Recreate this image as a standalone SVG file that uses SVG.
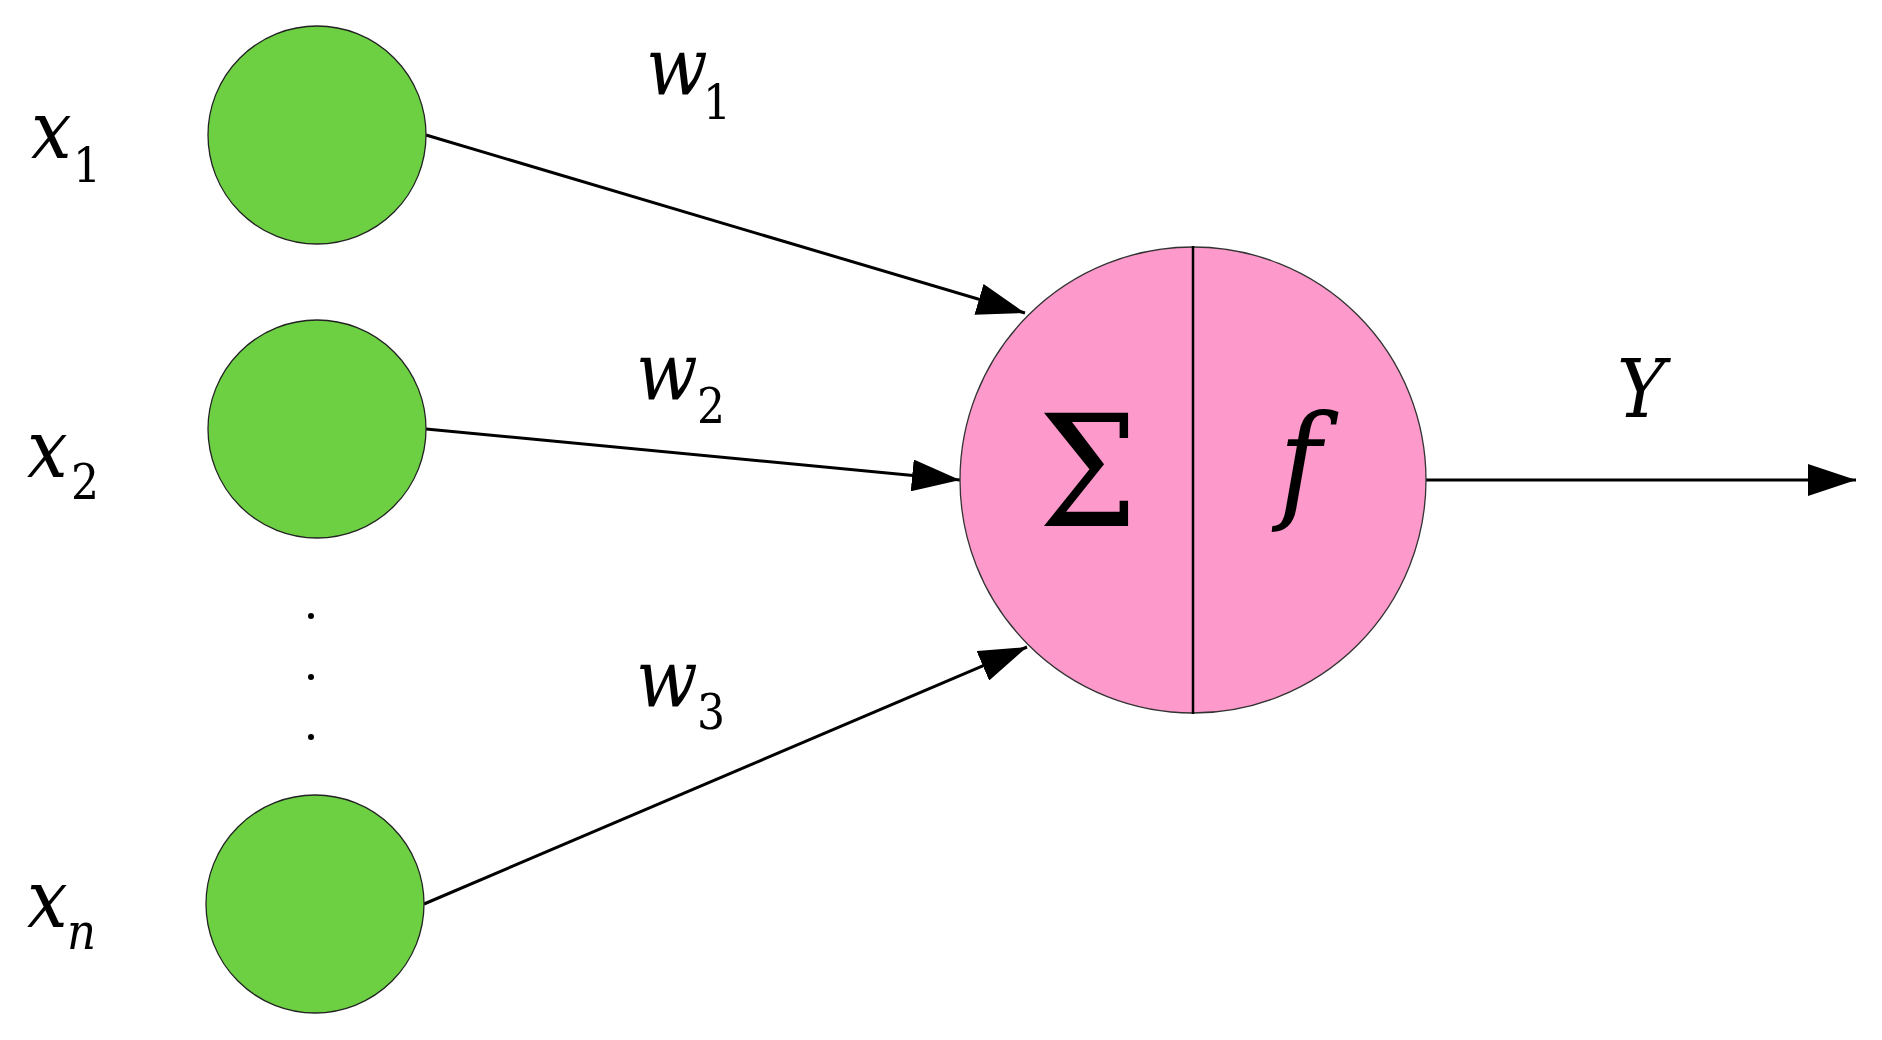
<svg xmlns="http://www.w3.org/2000/svg" width="1882" height="1040" viewBox="0 0 1882 1040">
<style>
.in{fill:#6dd043;stroke:#222;stroke-width:1.3}
.neu{fill:#fd9acb;stroke:#333;stroke-width:1.3}
.edge{stroke:#000;stroke-width:3;fill:none;marker-end:url(#ah)}
.it{font-style:italic;font-size:80px}
.sub{font-style:normal;font-size:49px}
</style>
<defs>
<marker id="ah" markerUnits="userSpaceOnUse" markerWidth="48" markerHeight="32" refX="48" refY="16" orient="auto" viewBox="0 0 48 32">
<path d="M0,0 L48,16 L0,32 z" fill="#000"/>
</marker>
</defs>
<rect width="1882" height="1040" fill="#fff"/>
<g id="connectors">
<line class="edge" x1="426" y1="135" x2="1025" y2="313"/>
<line class="edge" x1="426" y1="429" x2="960" y2="480"/>
<line class="edge" x1="424" y1="904" x2="1027" y2="647"/>
<line class="edge" x1="1426" y1="480" x2="1856" y2="480"/>
</g>
<g font-family="'DejaVu Serif Condensed', 'DejaVu Serif', 'Liberation Serif', serif" font-stretch="condensed" fill="#000">
<g id="x1">
<circle class="in" cx="317" cy="135" r="109"/>
<text class="it"><tspan x="31" y="158">x</tspan><tspan class="sub" x="73" y="182">1</tspan></text>
</g>
<g id="x2">
<circle class="in" cx="317" cy="429" r="109"/>
<text class="it"><tspan x="27" y="477">x</tspan><tspan class="sub" x="71" y="499">2</tspan></text>
</g>
<g id="dots">
<circle cx="311" cy="616" r="3" fill="#000"/>
<circle cx="311" cy="677" r="3" fill="#000"/>
<circle cx="311" cy="737" r="3" fill="#000"/>
</g>
<g id="xn">
<circle class="in" cx="315" cy="904" r="109"/>
<text class="it"><tspan x="27" y="927">x</tspan><tspan x="67" y="949" font-size="50">n</tspan></text>
</g>
<g id="neuron">
<circle class="neu" cx="1193" cy="480" r="233"/>
<line x1="1193" y1="246" x2="1193" y2="714" stroke="#000" stroke-width="2.5"/>
<text x="1088" y="526" font-size="156" text-anchor="middle">Σ</text>
<text x="1300" y="505" font-size="128" text-anchor="middle" font-style="italic">f</text>
</g>
<g id="labels">
<text class="it"><tspan x="646" y="95">w</tspan><tspan class="sub" x="703" y="119">1</tspan></text>
<text class="it"><tspan x="636" y="400">w</tspan><tspan class="sub" x="697" y="423">2</tspan></text>
<text class="it"><tspan x="636" y="707">w</tspan><tspan class="sub" x="697" y="729">3</tspan></text>
<text x="1641" y="417" font-size="81" text-anchor="middle" font-style="italic">Y</text>
</g>
</g>
</svg>
